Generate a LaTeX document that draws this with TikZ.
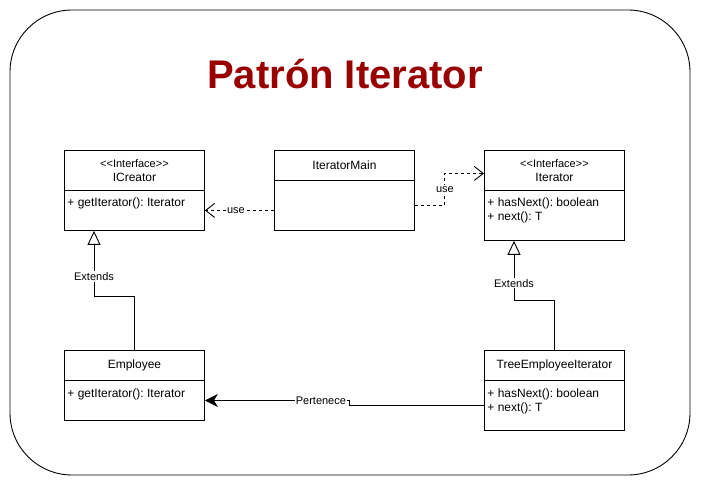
\documentclass[tikz,border=0pt]{standalone}
\usepackage{fontspec}
\setmainfont{Liberation Sans}
\usetikzlibrary{arrows.meta}
\definecolor{titlered}{HTML}{990000}
\frenchspacing

\begin{document}
\begin{tikzpicture}[x=1pt,y=-1pt,line width=0.9pt]
			\tikzset{every node/.style={font=\fontsize{12}{14}\selectfont}}
			\tikzset{classbox/.style={draw,minimum width=140pt,inner sep=0pt,anchor=north west,align=center}}
			\tikzset{members/.style={anchor=west,align=left,inner sep=0pt}}
			\tikzset{edgelabel/.style={fill=white,inner sep=1pt,font=\fontsize{11}{13}\selectfont}}
			\tikzset{uses/.style={dash pattern=on 3pt off 3pt,-{Straight Barb[length=9pt,width=14pt]}}}
			\tikzset{extends/.style={-{Triangle[open,length=14pt,width=13pt,fill=white]}}}
			\tikzset{belongs/.style={-{Stealth[length=13pt,width=13pt,inset=4pt]}}}
			\useasboundingbox (0,0) rectangle (701,486);
			\draw[rounded corners=62pt] (10,10) rectangle (690,475);
			\node[anchor=base,text=titlered,font=\fontsize{40}{42}\selectfont\bfseries] (title) at (345,89) {Patrón Iterator};
			% interfaces
			\node[classbox,minimum height=40pt] (icreatorHead) at (64,150) {{\fontsize{11}{14}\selectfont <\kern0pt<Interface>\kern0pt>}\\ICreator};
			\node[classbox,minimum height=40pt] (icreatorBody) at (64,190) {};
			\node[members] (icreatorOps) at (67,203) {+ getIterator(): Iterator};
			\node[classbox,minimum height=40pt] (iteratorHead) at (484,150) {{\fontsize{11}{14}\selectfont <\kern0pt<Interface>\kern0pt>}\\Iterator};
			\node[classbox,minimum height=50pt] (iteratorBody) at (484,190) {};
			\node[members] (iteratorOps) at (487,210) {+ hasNext(): boolean\\+ next(): T};
			% classes
			\node[classbox,minimum height=30pt] (mainHead) at (274,150) {IteratorMain};
			\node[classbox,minimum height=50pt] (mainBody) at (274,180) {};
			\node[classbox,minimum height=30pt] (employeeHead) at (64,350) {Employee};
			\node[classbox,minimum height=40pt] (employeeBody) at (64,380) {};
			\node[members] (employeeOps) at (67,394) {+ getIterator(): Iterator};
			\node[classbox,minimum height=30pt] (teiHead) at (484,350) {TreeEmployeeIterator};
			\node[classbox,minimum height=50pt] (teiBody) at (484,380) {};
			\node[members] (teiOps) at (487,401) {+ hasNext(): boolean\\+ next(): T};
			% relations
			\draw[uses] (mainBody.west |- icreatorBody.east) -- node[edgelabel,pos=0.55]{use} (icreatorBody.east);
			\draw[uses] (mainBody.east) -- ++(30,0) |- node[edgelabel,pos=0.25]{use} ([yshift=-3pt]iteratorHead.west);
			\draw[extends] (employeeHead.north) -- ++(0,-54) -| node[edgelabel,pos=0.65]{Extends} ([xshift=30pt]icreatorBody.south west);
			\draw[extends] (teiHead.north) -- ++(0,-50) -| node[edgelabel,pos=0.64]{Extends} ([xshift=30pt]iteratorBody.south west);
			\draw[belongs] (teiBody.west) -| ([xshift=145pt]employeeBody.east) -- node[edgelabel,pos=0.2]{Pertenece} (employeeBody.east);
\end{tikzpicture}
\end{document}
